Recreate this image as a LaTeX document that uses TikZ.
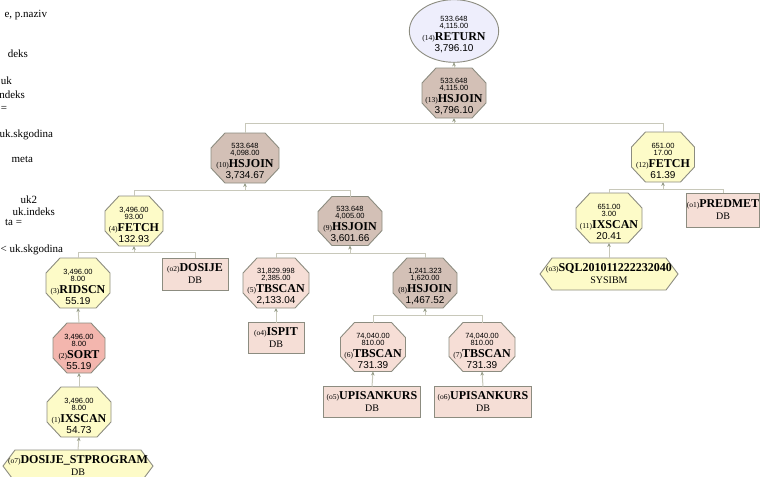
\documentclass[tikz,border=0pt]{standalone}
\usepackage{fontspec}
\setmainfont{Liberation Serif}
\newfontfamily\numfont{Liberation Sans}
\usetikzlibrary{shapes.geometric,arrows.meta,backgrounds,calc}

\definecolor{joinfill}{RGB}{211,192,182}
\definecolor{scanfill}{RGB}{253,251,200}
\definecolor{sortfill}{RGB}{243,182,174}
\definecolor{tbfill}{RGB}{246,222,214}
\definecolor{dbfill}{RGB}{245,222,214}
\definecolor{retfill}{RGB}{238,238,252}
\definecolor{opborder}{RGB}{140,140,128}
\definecolor{linkc}{RGB}{200,200,186}
\definecolor{arrowc}{RGB}{150,156,136}

% operator label: rows, cost, number, operator, total cost
\newcommand\OpText[5]{\vbox{\baselineskip=0pt\lineskip=0pt\lineskiplimit=-100pt
  \halign{\hfil##\hfil\cr
  \rule{0pt}{13pt}\numfont\fontsize{7.5}{0}\selectfont #1\cr
  \noalign{\vskip7pt}
  \numfont\fontsize{7.5}{0}\selectfont #2\cr
  \noalign{\vskip12pt}
  {\fontsize{7.5}{0}\selectfont(#3)}{\bfseries\fontsize{12}{0}\selectfont #4}\cr
  \noalign{\vskip11pt}
  \numfont\fontsize{10}{0}\selectfont #5\cr}}}
% table / index label: number, name, schema
\newcommand\ObjText[3]{\vbox{\baselineskip=0pt\lineskip=0pt\lineskiplimit=-100pt
  \halign{\hfil##\hfil\cr
  {\fontsize{7.5}{0}\selectfont(#1)}{\bfseries\fontsize{12}{0}\selectfont #2}\cr
  \noalign{\vskip12pt}
  \fontsize{10}{0}\selectfont #3\cr}}}

\tikzset{
  every node/.style={inner sep=0pt, outer sep=0pt},
  op/.style={rectangle},
  dbbox/.style={rectangle, draw=opborder, line width=0.9pt, fill=dbfill},
  retnode/.style={ellipse, draw=opborder, line width=0.9pt, fill=retfill},
  opline/.style={draw=opborder, line width=0.9pt},
  link/.style={draw=linkc, line width=1pt},
  arr/.style={-{Stealth[length=4pt,width=3.6pt,color=arrowc]}},
  sidetext/.style={anchor=base east, font={\fontsize{11}{13}\selectfont}}
}

\begin{document}
\begin{tikzpicture}[x=1pt,y=-1pt]
\useasboundingbox (0,0) rectangle (764,477);
\clip (0,0) rectangle (764,477);

% query text running off the left edge
\node[sidetext] (q1) at (47,17) {e, p.naziv};
\node[sidetext] (q2) at (28,57) {deks};
\node[sidetext] (q3) at (12,84) {uk};
\node[sidetext] (q4) at (25,98) {ndeks};
\node[sidetext] (q5) at (7,111) {=};
\node[sidetext] (q6) at (53,137) {uk.skgodina};
\node[sidetext] (q7) at (33,162) {meta};
\node[sidetext] (q8) at (37,203) {uk2};
\node[sidetext] (q9) at (55,215) {uk.indeks};
\node[sidetext] (q10) at (22,225) {ta =};
\node[sidetext] (q11) at (63,252) {< uk.skgodina};

% plan operators
\node[retnode, minimum width=70, minimum height=58] (r14) at (454,31)
  {\OpText{533.648}{4,115.00}{14}{RETURN}{3,796.10}};
\node[op, minimum width=64, minimum height=50] (p13) at (454,93)
  {\OpText{533.648}{4,115.00}{13}{HSJOIN}{3,796.10}};
\node[op, minimum width=68, minimum height=50] (p10) at (245,158)
  {\OpText{533.648}{4,098.00}{10}{HSJOIN}{3,734.67}};
\node[op, minimum width=63, minimum height=50] (p12) at (663,157)
  {\OpText{651.00}{17.00}{12}{FETCH}{61.39}};
\node[op, minimum width=66, minimum height=50] (p11) at (609,218)
  {\OpText{651.00}{3.00}{11}{IXSCAN}{20.41}};
\node[op, minimum width=58, minimum height=50] (p4) at (134,221)
  {\OpText{3,496.00}{93.00}{4}{FETCH}{132.93}};
\node[op, minimum width=64, minimum height=49] (p9) at (350,221)
  {\OpText{533.648}{4,005.00}{9}{HSJOIN}{3,601.66}};
\node[op, minimum width=64, minimum height=50] (p3) at (78,283)
  {\OpText{3,496.00}{8.00}{3}{RIDSCN}{55.19}};
\node[op, minimum width=66, minimum height=50] (p5) at (276,283)
  {\OpText{31,829.998}{2,385.00}{5}{TBSCAN}{2,133.04}};
\node[op, minimum width=64, minimum height=50] (p8) at (425,283)
  {\OpText{1,241.323}{1,620.00}{8}{HSJOIN}{1,467.52}};
\node[op, minimum width=52, minimum height=50] (p2) at (79,348)
  {\OpText{3,496.00}{8.00}{2}{SORT}{55.19}};
\node[op, minimum width=65, minimum height=49] (p6) at (373,347)
  {\OpText{74,040.00}{810.00}{6}{TBSCAN}{731.39}};
\node[op, minimum width=66, minimum height=49] (p7) at (482,347)
  {\OpText{74,040.00}{810.00}{7}{TBSCAN}{731.39}};
\node[op, minimum width=64, minimum height=50] (p1) at (79,412)
  {\OpText{3,496.00}{8.00}{1}{IXSCAN}{54.73}};

% tables and indexes
\node[dbbox, minimum width=71, minimum height=34] (o1) at (723,210) {\ObjText{o1}{PREDMET}{DB}};
\node[dbbox, minimum width=66, minimum height=32] (o2) at (195,274) {\ObjText{o2}{DOSIJE}{DB}};
\node[dbbox, minimum width=56, minimum height=31] (o4) at (276,338) {\ObjText{o4}{ISPIT}{DB}};
\node[dbbox, minimum width=97, minimum height=31] (o5) at (372,402) {\ObjText{o5}{UPISANKURS}{DB}};
\node[dbbox, minimum width=97, minimum height=31] (o6) at (483,402) {\ObjText{o6}{UPISANKURS}{DB}};
\node[op, minimum width=138, minimum height=32] (o3) at (609,274) {\ObjText{o3}{SQL201011222232040}{SYSIBM}};
\node[op, minimum width=150, minimum height=32] (o7) at (78,466) {\ObjText{o7}{DOSIJE\_STPROGRAM}{DB}};

% octagon and hexagon outlines behind the labels
\begin{scope}[on background layer]
\foreach \n/\c in {p13/joinfill, p10/joinfill, p9/joinfill, p8/joinfill,
                   p12/scanfill, p11/scanfill, p4/scanfill, p3/scanfill, p1/scanfill,
                   p2/sortfill, p5/tbfill, p6/tbfill, p7/tbfill}
  \filldraw[opline, fill=\c]
    ($(\n.north west)+(14,0)$) -- ($(\n.north east)+(-14,0)$) --
    ($(\n.north east)+(0,15)$) -- ($(\n.south east)+(0,-15)$) --
    ($(\n.south east)+(-14,0)$) -- ($(\n.south west)+(14,0)$) --
    ($(\n.south west)+(0,-15)$) -- ($(\n.north west)+(0,15)$) -- cycle;
\foreach \n in {o3, o7}
  \filldraw[opline, fill=scanfill]
    (\n.west) -- ($(\n.north west)+(12,0)$) -- ($(\n.north east)+(-12,0)$) --
    (\n.east) -- ($(\n.south east)+(-12,0)$) -- ($(\n.south west)+(12,0)$) -- cycle;
\end{scope}

% data flow: children feed their parent from below
\coordinate (j13) at (454,123);
\coordinate (j10) at (245,190);
\coordinate (j12) at (663,189);
\coordinate (j4)  at (134,252);
\coordinate (j9)  at (350,253);
\coordinate (j8)  at (425,315);

\draw[link, arr] (p13.north) -- (r14.south);
\draw[link] (p10.north) |- (j13);
\draw[link] (p12.north) |- (j13);
\draw[link, arr] (j13) -- (p13.south);

\draw[link] (p4.north) |- (j10);
\draw[link] (p9.north) |- (j10);
\draw[link, arr] (j10) -- (p10.south);

\draw[link] (p11.north) |- (j12);
\draw[link] (o1.north) |- (j12);
\draw[link, arr] (j12) -- (p12.south);
\draw[link, arr] (o3.north) -- (p11.south);

\draw[link] (p3.north) |- (j4);
\draw[link] (o2.north) |- (j4);
\draw[link, arr] (j4) -- (p4.south);

\draw[link] (p5.north) |- (j9);
\draw[link] (p8.north) |- (j9);
\draw[link, arr] (j9) -- (p9.south);

\draw[link] (p6.north) |- (j8);
\draw[link] (p7.north) |- (j8);
\draw[link, arr] (j8) -- (p8.south);

\draw[link, arr] (p2.north) -- (p3.south);
\draw[link, arr] (p1.north) -- (p2.south);
\draw[link, arr] (o7.north) -- (p1.south);
\draw[link, arr] (o4.north) -- (p5.south);
\draw[link, arr] (o5.north) -- (p6.south);
\draw[link, arr] (o6.north) -- (p7.south);
\end{tikzpicture}
\end{document}
